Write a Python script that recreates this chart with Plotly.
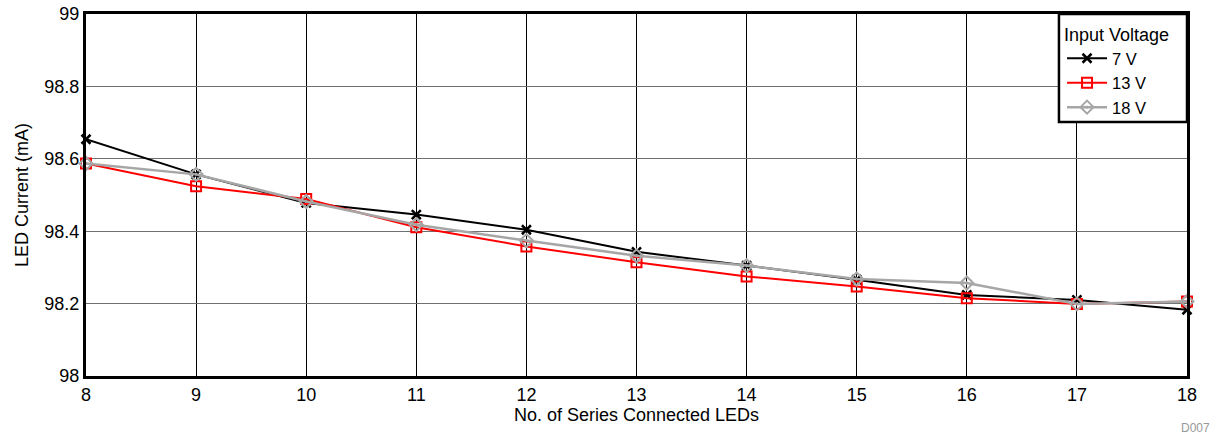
import plotly.graph_objects as go

leds = [8, 9, 10, 11, 12, 13, 14, 15, 16, 17, 18]
v7 = [98.654, 98.557, 98.478, 98.446, 98.404, 98.343, 98.305, 98.266, 98.224, 98.210, 98.183]
v13 = [98.587, 98.524, 98.489, 98.411, 98.358, 98.314, 98.275, 98.247, 98.215, 98.199, 98.206]
v18 = [98.587, 98.557, 98.482, 98.418, 98.374, 98.332, 98.305, 98.268, 98.257, 98.199, 98.206]

x_ticks = list(range(8, 19))
y_ticks = [98, 98.2, 98.4, 98.6, 98.8, 99]
y_tick_text = ["98", "98.2", "98.4", "98.6", "98.8", "99"]

fig = go.Figure()
fig.add_trace(go.Scatter(x=leds, y=v7, name="7 V", mode="lines+markers", cliponaxis=False,
                         line=dict(color="black", width=2),
                         marker=dict(symbol="x-thin", size=9, line=dict(color="black", width=2.5))))
fig.add_trace(go.Scatter(x=leds, y=v13, name="13 V", mode="lines+markers", cliponaxis=False,
                         line=dict(color="#ff0000", width=2),
                         marker=dict(symbol="square-open", size=10, color="#ff0000", line=dict(width=2))))
fig.add_trace(go.Scatter(x=leds, y=v18, name="18 V", mode="lines+markers", cliponaxis=False,
                         line=dict(color="#a6a6a6", width=2.5),
                         marker=dict(symbol="diamond-open-dot", size=10, color="#a6a6a6", line=dict(width=2))))

fig.update_layout(
    width=1220, height=436,
    margin=dict(l=86, r=33, t=14, b=60, autoexpand=False),
    paper_bgcolor="white", plot_bgcolor="white",
    font=dict(family="Liberation Sans, Arial, sans-serif", size=18, color="black"),
    legend=dict(
        title=dict(text="Input Voltage", font=dict(size=18)),
        x=0.8865, y=0.99, xanchor="left", yanchor="top",
        bgcolor="rgba(0,0,0,0)", borderwidth=0,
        font=dict(size=16.5), itemwidth=40, tracegroupgap=0,
    ),
    xaxis=dict(
        title=dict(text="No. of Series Connected LEDs", font=dict(size=18), standoff=2),
        range=[8, 18], tickmode="array", tickvals=x_ticks,
        tickfont=dict(size=18), ticklabeloverflow="allow",
        showgrid=True, gridcolor="black", gridwidth=1,
        showline=True, linecolor="black", linewidth=3, mirror=True,
        ticks="", zeroline=False,
    ),
    yaxis=dict(
        title=dict(text="LED Current (mA)", font=dict(size=18), standoff=12),
        range=[98, 99], tickmode="array", tickvals=y_ticks, ticktext=y_tick_text,
        tickfont=dict(size=18), ticklabeloverflow="allow",
        showgrid=True, gridcolor="#707070", gridwidth=1,
        showline=True, linecolor="black", linewidth=3, mirror=True,
        ticks="", zeroline=False,
    ),
)

# legend frame
fig.add_shape(type="rect", xref="paper", yref="paper", x0=0.8837, x1=1.0, y0=0.7017, y1=1.0,
              fillcolor="white", line=dict(color="black", width=2.5), layer="above")

fig.add_annotation(text="D007", xref="paper", yref="paper", x=1.0227, y=-0.144,
                   xanchor="right", yanchor="middle", showarrow=False,
                   font=dict(size=12, color="#999999"))

fig.write_html("out.html", config={"displayModeBar": False},
               post_script="document.body.style.margin='0';")
